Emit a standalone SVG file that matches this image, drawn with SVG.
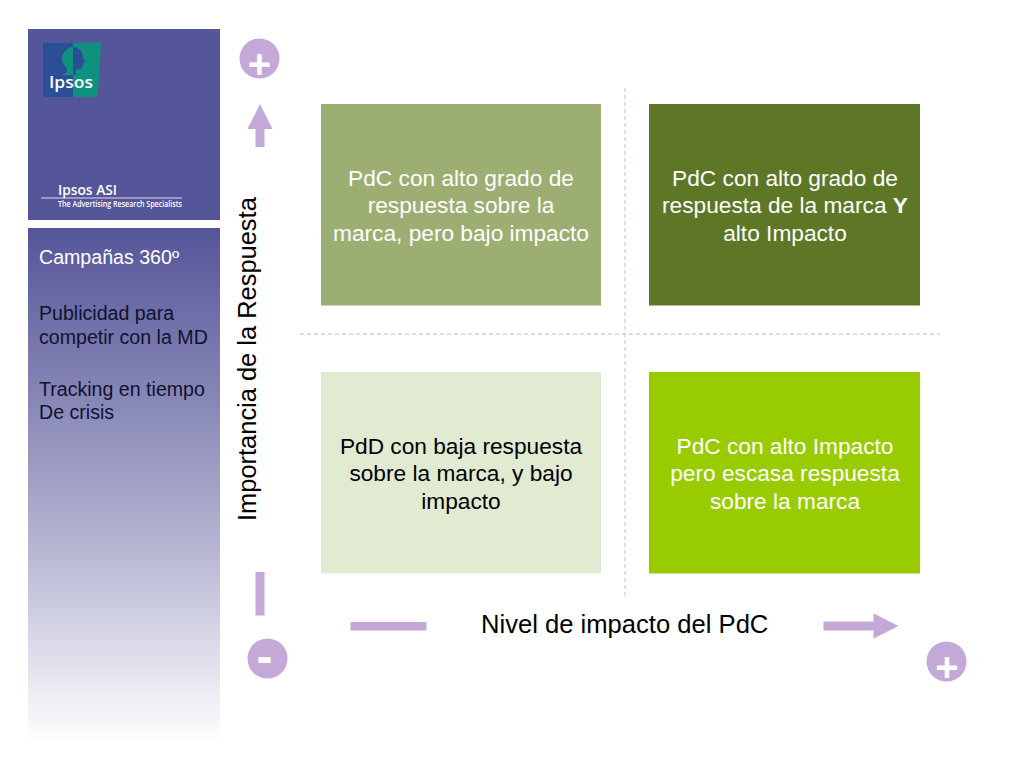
<svg xmlns="http://www.w3.org/2000/svg" width="1024" height="768" viewBox="0 0 1024 768">
<style>
text{font-family:"Liberation Sans",Arial,sans-serif}
.q{font-size:22.7px;text-anchor:middle}
.w{fill:#fff}
.k{fill:#000}
.s{font-size:19.6px;fill:#fff}
.s2{font-size:19.6px;fill:#12122e}
.a{fill:#c4a8d8}
.g{stroke:#cfcfe8;stroke-width:1.3;stroke-dasharray:4 3;fill:none}
.sign{font-weight:bold;fill:#fff;text-anchor:middle}
.axis{font-size:25.6px;fill:#000}
.brand{font-family:"Open Sans","Liberation Sans",sans-serif;font-weight:600;fill:#fff}
</style>
<defs>
<linearGradient id="side" x1="0" y1="0" x2="0" y2="1">
<stop offset="0" stop-color="#55559a"/>
<stop offset="0.3" stop-color="#8282b4"/>
<stop offset="0.6" stop-color="#b2b2d0"/>
<stop offset="1" stop-color="#ffffff"/>
</linearGradient>
</defs>
<rect width="1024" height="768" fill="#fff"/>
<g id="sidebar">
<rect x="28" y="29" width="192" height="191" fill="#55559a"/>
<rect x="28" y="228" width="192" height="516" fill="url(#side)"/>
<g id="logo">
<rect x="43" y="43" width="30" height="54" fill="#2a4f96"/>
<path d="M68 43H101L97.500 97H68Z" fill="#0f9180"/>
<path d="M68 43H73V48C66 48 62 53 62 59C62 65 67 67 67 71C67 73 64 74 62 75H73V97H68Z" fill="#2a4f96"/>
<path d="M73 47C67 47 62 53 62 59C62 65 67 67 67 71C67 73 64 74 62 75H73Z" fill="#0f9180"/>
<path d="M73 47C79 47 83 52 83 57L85 62L83 63C83 67 82 70 78 69C75 69 75 72 77 75H73Z" fill="#2a4f96"/>
<text class="brand" x="49" y="88" font-size="17" textLength="44" lengthAdjust="spacingAndGlyphs">Ipsos</text>
</g>
<text class="brand" x="58" y="194.500" font-size="13.500" textLength="59" lengthAdjust="spacingAndGlyphs">Ipsos ASI</text>
<line x1="41" y1="198" x2="182" y2="198" stroke="#fff" stroke-width="0.8"/>
<text class="brand" x="58" y="207" font-size="8.600" textLength="124" lengthAdjust="spacingAndGlyphs">The Advertising Research Specialists</text>
<text class="s" x="39" y="263.500">Campañas 360º</text>
<text class="s2" x="39" y="319.500">Publicidad para</text>
<text class="s2" x="39" y="343.500">competir con la MD</text>
<text class="s2" x="39" y="395.500">Tracking en tiempo</text>
<text class="s2" x="39" y="418.500">De crisis</text>
</g>
<g id="connectors">
<line class="g" x1="625" y1="88" x2="625" y2="596"/>
<line class="g" x1="300" y1="334" x2="940" y2="334"/>
</g>
<g id="q1">
<rect x="321" y="104" width="280" height="201.500" fill="#9dae72"/>
<text class="q w" x="461" y="185.500">PdC con alto grado de</text>
<text class="q w" x="461" y="213">respuesta sobre la</text>
<text class="q w" x="461" y="240.500">marca, pero bajo impacto</text>
</g>
<g id="q2">
<rect x="649" y="104" width="271" height="201.500" fill="#5d7727"/>
<text class="q w" x="785" y="185.500">PdC con alto grado de</text>
<text class="q w" x="785" y="213">respuesta de la marca <tspan font-weight="bold">Y</tspan></text>
<text class="q w" x="785" y="240.500">alto Impacto</text>
</g>
<g id="q3">
<rect x="321" y="372" width="280" height="201.500" fill="#e0ebd1"/>
<text class="q k" x="461" y="453.500">PdD con baja respuesta</text>
<text class="q k" x="461" y="481">sobre la marca, y bajo</text>
<text class="q k" x="461" y="508.500">impacto</text>
</g>
<g id="q4">
<rect x="649" y="372" width="271" height="201.500" fill="#99cc00"/>
<text class="q w" x="785" y="453.500">PdC con alto Impacto</text>
<text class="q w" x="785" y="481">pero escasa respuesta</text>
<text class="q w" x="785" y="508.500">sobre la marca</text>
</g>
<g id="axis-y">
<text class="axis" style="font-size:25.45px" transform="translate(256 521) rotate(-90)">Importancia de la Respuesta</text>
<path class="a" d="M260 104L272.500 129H264.500V147H255.500V129H247.500Z"/>
<rect class="a" x="255.500" y="572" width="9" height="43.500"/>
</g>
<g id="axis-x">
<text class="axis" x="481" y="632.500">Nivel de impacto del PdC</text>
<rect class="a" x="350.500" y="622" width="76" height="8.500"/>
<path class="a" d="M823.500 621.500H873.500V613.500L898.500 626L873.500 638.500V630.500H823.500Z"/>
</g>
<g id="plus-top">
<circle class="a" cx="259.500" cy="58.500" r="20"/>
<text class="sign" x="259.500" y="78" font-size="40">+</text>
</g>
<g id="minus">
<circle class="a" cx="267.500" cy="658.500" r="20"/>
<text class="sign" x="264.500" y="673" font-size="48">-</text>
</g>
<g id="plus-right">
<circle class="a" cx="946.500" cy="661.500" r="20"/>
<text class="sign" x="947" y="681" font-size="40">+</text>
</g>
</svg>
